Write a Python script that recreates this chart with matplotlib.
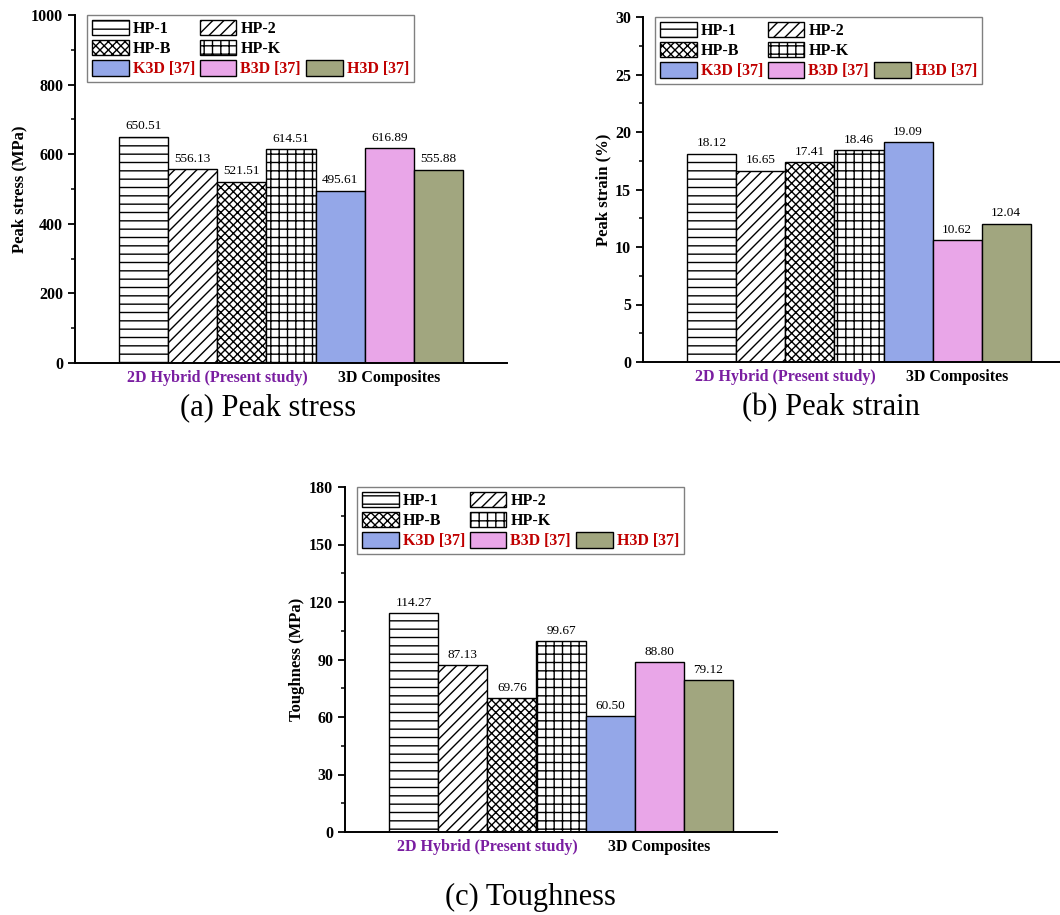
import numpy as np
import matplotlib
matplotlib.use("Agg")
import matplotlib.pyplot as plt
from matplotlib.patches import Patch
from matplotlib.ticker import AutoMinorLocator

plt.rcParams['font.family'] = ['Liberation Serif', 'DejaVu Serif']
plt.rcParams['font.weight'] = 'bold'
plt.rcParams['hatch.linewidth'] = 1.0

# data
series = ['HP-1', 'HP-2', 'HP-B', 'HP-K', 'K3D [37]', 'B3D [37]', 'H3D [37]']
stress = [650.51, 556.13, 521.51, 614.51, 495.61, 616.89, 555.88]
strain = [18.12, 16.65, 17.41, 18.46, 19.09, 10.62, 12.04]
toughness = [114.27, 87.13, 69.76, 99.67, 60.50, 88.80, 79.12]
groups = ['2D Hybrid (Present study)', '3D Composites']
group_members = [[0, 1, 2, 3], [4, 5, 6]]

hatches = ['--', '///', 'xxxx', '++', '', '', '']
colors = ['white', 'white', 'white', 'white', '#94A7E8', '#E9A6E8', '#A1A67F']
group_colors = ['#7A1EA1', 'black']
ref_color = '#C00000'

W, H = 1060, 915
fig = plt.figure(figsize=(W / 100, H / 100), dpi=100)

panels = [
    dict(vals=stress, ylabel='Peak stress (MPa)', top=1000, step=200,
         rect=(75, 15, 432, 348), caption='(a) Peak stress', cap=(268, 408)),
    dict(vals=strain, ylabel='Peak strain (%)', top=30, step=5,
         rect=(643, 17, 432, 345), caption='(b) Peak strain', cap=(831, 408)),
    dict(vals=toughness, ylabel='Toughness (MPa)', top=180, step=30,
         rect=(345, 487, 432, 345), caption='(c) Toughness', cap=(530, 897)),
]

for p in panels:
    l, t, w, h = p['rect']
    ax = fig.add_axes([l / W, 1 - (t + h) / H, w / W, h / H])
    x = np.arange(len(series))
    bars = ax.bar(x, p['vals'], width=1.0, color=colors, edgecolor='black', linewidth=1.0)
    for b, ht in zip(bars, hatches):
        b.set_hatch(ht)
    ax.bar_label(bars, labels=['%.2f' % v for v in p['vals']], padding=3,
                 fontsize=9.5, fontweight='normal')

    ax.set_xlim(-1.4, len(series) + 0.4)
    ax.set_ylim(0, p['top'])
    ax.set_yticks(np.arange(0, p['top'] + 1, p['step']))
    ax.yaxis.set_minor_locator(AutoMinorLocator(2))
    ax.tick_params(axis='y', which='major', direction='out', length=5, width=1.3, labelsize=11.5)
    ax.tick_params(axis='y', which='minor', direction='out', length=3, width=1.1)

    centers = [np.mean(m) for m in group_members]
    ax.set_xticks(centers)
    ax.set_xticklabels(groups, fontsize=11.5)
    ax.tick_params(axis='x', length=0, pad=5)
    for lbl, c in zip(ax.get_xticklabels(), group_colors):
        lbl.set_color(c)

    ax.set_ylabel(p['ylabel'], fontsize=12, fontweight='bold', labelpad=3)
    for s in ['top', 'right']:
        ax.spines[s].set_visible(False)
    for s in ['left', 'bottom']:
        ax.spines[s].set_linewidth(1.4)

    handles = [Patch(facecolor=c, edgecolor='black', hatch=hh, label=s)
               for c, hh, s in zip(colors, hatches, series)]
    blank = Patch(facecolor='none', edgecolor='none', label='')
    order = [handles[0], handles[2], handles[4], handles[1], handles[3], handles[5],
             blank, blank, handles[6]]
    leg = ax.legend(handles=order, loc='upper left', bbox_to_anchor=(12 / w, 1.0),
                    ncol=3, prop={'weight': 'bold', 'size': 11.5},
                    handlelength=2.3, handleheight=1.1, handletextpad=0.25,
                    columnspacing=0.3, labelspacing=0.2, borderpad=0.3,
                    borderaxespad=0, fancybox=False, framealpha=1, edgecolor='gray')
    leg.get_frame().set_linewidth(1.0)
    for txt in leg.get_texts():
        if '[37]' in txt.get_text():
            txt.set_color(ref_color)

    cx, cy = p['cap']
    fig.text(cx / W, 1 - cy / H, p['caption'], ha='center', va='center',
             fontsize=22, fontweight='normal')

fig.savefig('out.png', dpi=100)
